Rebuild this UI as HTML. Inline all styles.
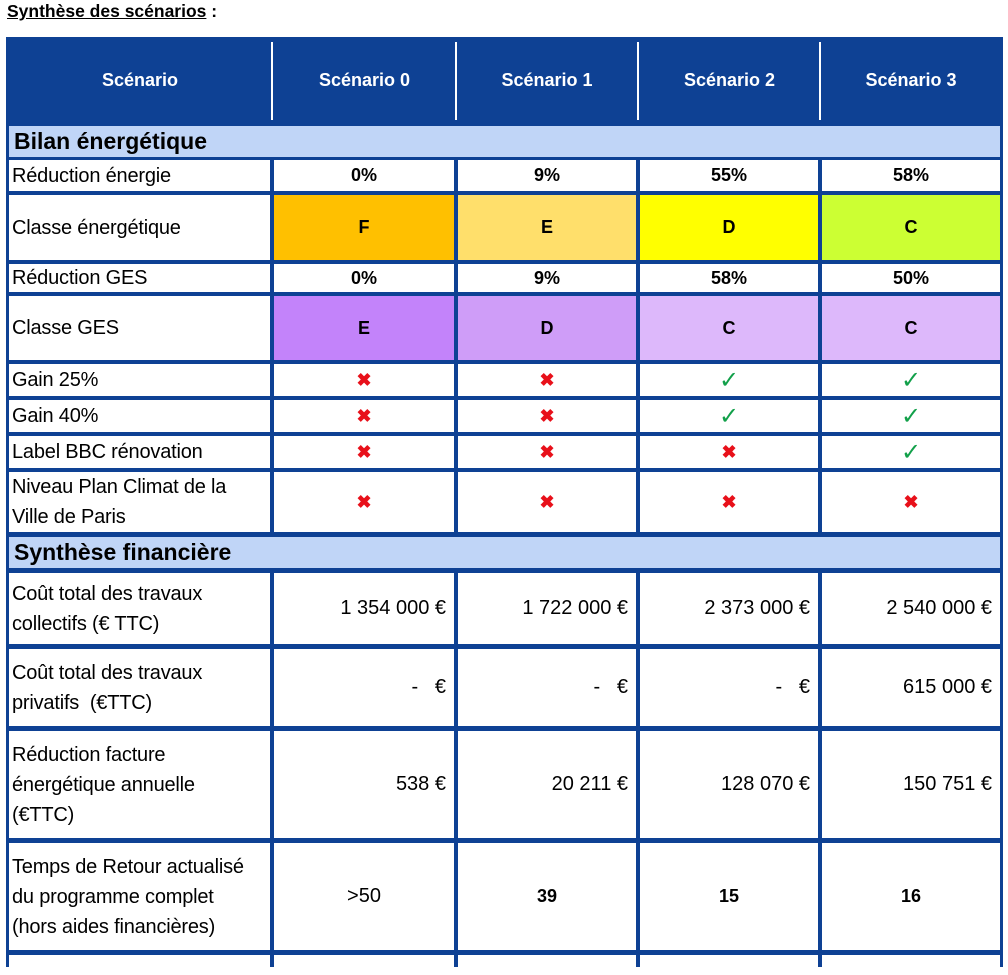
<!DOCTYPE html>
<html><head><meta charset="utf-8"><style>
*{margin:0;padding:0;box-sizing:border-box}
body{width:1008px;height:955px;background:#fff;position:relative;overflow:hidden;font-family:"Liberation Sans",sans-serif;color:#000}
.t{position:absolute;left:6px;top:37px;width:997px;height:930px;background:#0e4194}
.c{position:absolute;background:#fff;display:flex;align-items:center;justify-content:center;font-size:18px;font-weight:bold}
.l{justify-content:flex-start;padding-left:3px;font-weight:normal;font-size:20px;line-height:30px;letter-spacing:-0.2px}
.r{justify-content:flex-end;padding-right:8px;font-weight:normal;font-size:20px}
.n{font-weight:normal;font-size:20px}
.b{position:absolute;background:#c0d5f7;font-size:23px;font-weight:bold;padding-left:5px;display:flex;align-items:center}
.h{position:absolute;color:#fff;font-weight:bold;font-size:18px;display:flex;align-items:center;justify-content:center;top:38px;height:84px}
.s{position:absolute;background:#fff;width:2px;top:42px;height:78px}
.x{color:#e8101a;font-size:18px}
.k{color:#12a04a;font-size:24px;font-weight:normal}
</style></head><body>
<div style="position:absolute;left:7px;top:1px;font-size:17.5px;font-weight:bold"><span style="text-decoration:underline">Synthèse des scénarios</span> :</div>
<div class="t"></div>
<div class="h" style="left:9px;width:262px">Scénario</div>
<div class="h" style="left:274px;width:181px">Scénario 0</div>
<div class="h" style="left:457px;width:180px">Scénario 1</div>
<div class="h" style="left:639px;width:181px">Scénario 2</div>
<div class="h" style="left:822px;width:178px">Scénario 3</div>
<div class="s" style="left:271px"></div><div class="s" style="left:455px"></div><div class="s" style="left:637px"></div><div class="s" style="left:819px"></div>

<div class="b" style="left:9px;top:126px;width:991px;height:31px">Bilan énergétique</div>
<div class="b" style="left:9px;top:537px;width:991px;height:31px">Synthèse financière</div>

<div id="rows"></div>
<script>
const cols=[[9,261],[274,180],[458,178],[640,178],[822,178]];
const rows=[
[160,31,["Réduction énergie","0%","9%","55%","58%"]],
[195,65,["Classe énergétique","F","E","D","C"],["","#ffc000","#ffdf6b","#ffff00","#ccff33"]],
[264,28,["Réduction GES","0%","9%","58%","50%"]],
[296,64,["Classe GES","E","D","C","C"],["","#c383fa","#cf9df8","#ddb8fb","#ddb8fb"]],
[364,32,["Gain 25%","x","x","v","v"]],
[400,32,["Gain 40%","x","x","v","v"]],
[436,32,["Label BBC rénovation","x","x","x","v"]],
[472,60,["Niveau Plan Climat de la<br>Ville de Paris","x","x","x","x"]],
[573,71,["Coût total des travaux<br>collectifs (€ TTC)","1 354 000 €","1 722 000 €","2 373 000 €","2 540 000 €"],null,"r"],
[649,77,["Coût total des travaux<br>privatifs&nbsp; (€TTC)","-&nbsp;&nbsp; €","-&nbsp;&nbsp; €","-&nbsp;&nbsp; €","615 000 €"],null,"r"],
[731,107,["Réduction facture<br>énergétique annuelle<br>(€TTC)","538 €","20 211 €","128 070 €","150 751 €"],null,"r"],
[843,107,["Temps de Retour actualisé<br>du programme complet<br>(hors aides financières)","<span class='n'>&gt;50</span>","39","15","16"]],
[955,20,["","","","",""]]
];
let h="";
for(const [y,hh,txt,bg,cls] of rows){
 txt.forEach((t,i)=>{
  let c=i==0?"c l":"c"+(cls?" "+cls:"");
  if(t=="x")t="<span class='x'>✖</span>";
  if(t=="v")t="<span class='k'>✓</span>";
  const style=`left:${cols[i][0]}px;top:${y}px;width:${cols[i][1]}px;height:${hh}px;`+(bg&&bg[i]?`background:${bg[i]};`:"");
  h+=`<div class="${c}" style="${style}">${i==0?"<div>"+t+"</div>":t}</div>`;
 });
}
document.getElementById("rows").innerHTML=h;
</script>
</body></html>
